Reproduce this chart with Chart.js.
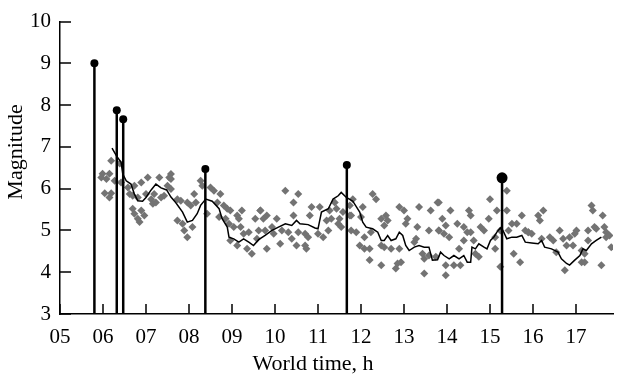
<!DOCTYPE html>
<html lang="en">
<head>
    <meta charset="UTF-8">
    <title>Magnitude vs world time</title>
    <script src="https://cdn.jsdelivr.net/npm/chart.js"></script>
    <style>
        body {
            margin: 0;
            padding: 0;
            background-color: #fff;
            font-family: 'Liberation Serif', serif;
        }

        .chart-wrapper {
            width: 617px;
            height: 382px;
            position: relative;
        }

        .font-warmup {
            position: absolute;
            left: -9999px;
            top: 0;
            font-family: 'Liberation Serif';
            font-size: 20px;
        }
    </style>
</head>
<body>
    <div class="font-warmup">World time, h Magnitude 0123456789</div>
    <div class="chart-wrapper">
        <canvas id="main-chart" width="617" height="382"></canvas>
    </div>

    <script>
        // Eventos (hastes com ponto)
        const eventTimes = [5.80, 6.32, 6.47, 8.38, 11.67, 15.28];
        const eventMags = [9.0, 7.88, 7.66, 6.47, 6.57, 6.26];
        const eventDotSizes = [4, 4, 4, 4, 4, 5.5];

        // Pontos cinzentos
        const scatterTimes = [
            5.99, 5.96, 6.08, 6.04, 6.15, 6.15, 6.19, 6.19, 6.27, 6.39, 6.42, 6.58, 6.62, 6.69, 6.69, 6.73, 6.73,
            6.81, 6.81, 6.85, 6.89, 6.89, 6.96, 7.00, 7.04, 7.12, 7.16, 7.19, 7.23, 7.31, 7.35, 7.42, 7.50, 7.54,
            7.58, 7.58, 7.58, 7.73, 7.73, 7.81, 7.85, 7.89, 7.96, 7.96, 8.04, 8.08, 8.12, 8.16, 8.27, 8.31, 8.42,
            8.50, 8.58, 8.66, 8.70, 8.73, 8.81, 8.85, 8.89, 8.93, 8.96, 8.96, 9.04, 9.12, 9.12, 9.16, 9.20, 9.23,
            9.27, 9.35, 9.39, 9.46, 9.54, 9.58, 9.62, 9.66, 9.66, 9.73, 9.77, 9.81, 9.81, 9.93, 9.97, 10.04, 10.12,
            10.16, 10.24, 10.31, 10.39, 10.43, 10.43, 10.50, 10.54, 10.54, 10.70, 10.70, 10.73, 10.77, 10.81, 10.85,
            11.00, 11.04, 11.12, 11.20, 11.24, 11.27, 11.31, 11.39, 11.43, 11.47, 11.50, 11.54, 11.58, 11.74, 11.74,
            11.77, 11.77, 11.81, 11.89, 11.97, 12.00, 12.04, 12.08, 12.08, 12.20, 12.20, 12.23, 12.27, 12.35, 12.47,
            12.47, 12.47, 12.54, 12.54, 12.58, 12.62, 12.70, 12.81, 12.85, 12.89, 12.89, 12.93, 13.00, 13.04, 13.08,
            13.24, 13.28, 13.31, 13.35, 13.43, 13.47, 13.47, 13.58, 13.58, 13.62, 13.74, 13.78, 13.81, 13.81, 13.81,
            13.89, 13.93, 13.97, 13.97, 13.97, 14.05, 14.08, 14.16, 14.24, 14.28, 14.31, 14.39, 14.39, 14.47, 14.51,
            14.55, 14.55, 14.62, 14.66, 14.74, 14.78, 14.86, 14.97, 15.00, 15.12, 15.12, 15.16, 15.24, 15.24, 15.39,
            15.39, 15.43, 15.51, 15.55, 15.62, 15.70, 15.74, 15.82, 15.89, 15.89, 15.97, 16.12, 16.16, 16.20, 16.24,
            16.39, 16.47, 16.54, 16.62, 16.70, 16.74, 16.78, 16.85, 16.93, 16.97, 17.01, 17.13, 17.13, 17.20, 17.20,
            17.28, 17.28, 17.36, 17.39, 17.43, 17.47, 17.59, 17.62, 17.66, 17.70, 17.70, 17.78, 17.82
        ];
        const scatterMags = [
            6.36, 6.27, 6.23, 5.89, 6.36, 5.79, 6.67, 5.89, 6.19, 6.60, 6.15, 6.03, 5.87, 5.83, 5.52, 6.07, 5.40,
            5.79, 5.28, 5.20, 6.15, 5.48, 5.36, 5.87, 6.27, 5.75, 5.64, 5.87, 5.67, 6.27, 5.79, 5.83, 6.07, 6.27,
            6.35, 6.23, 5.99, 5.75, 5.24, 5.71, 5.16, 5.00, 4.84, 5.67, 5.60, 5.08, 5.87, 5.67, 6.19, 6.07, 5.40,
            6.03, 5.95, 5.67, 5.32, 5.87, 5.60, 5.28, 5.52, 5.16, 5.48, 4.76, 5.08, 5.36, 4.64, 5.28, 5.08, 5.48,
            4.92, 4.56, 4.96, 4.44, 5.28, 4.80, 5.00, 5.48, 5.48, 5.28, 5.00, 5.36, 4.56, 5.08, 4.92, 5.28, 4.68,
            5.00, 5.95, 4.96, 4.80, 5.67, 5.36, 4.64, 5.87, 4.96, 4.92, 4.64, 4.56, 4.84, 5.36, 5.56, 4.92, 5.56,
            4.84, 5.24, 5.00, 5.48, 5.28, 5.67, 5.52, 5.16, 5.28, 5.08, 5.44, 5.60, 5.36, 5.00, 5.36, 5.75, 4.96,
            4.64, 5.32, 5.56, 4.84, 4.56, 4.56, 4.29, 4.96, 5.87, 5.75, 5.28, 4.64, 4.17, 5.12, 4.60, 5.36, 5.24,
            4.56, 4.09, 4.21, 5.56, 4.56, 4.24, 5.48, 5.16, 5.28, 4.72, 4.80, 5.08, 5.56, 4.44, 4.32, 3.97, 4.40,
            5.00, 5.48, 4.37, 5.67, 5.00, 5.67, 5.00, 5.28, 4.92, 5.12, 4.17, 3.93, 4.84, 5.48, 4.17, 5.16, 4.56,
            4.17, 5.08, 4.76, 4.96, 5.48, 4.96, 5.36, 4.76, 4.44, 4.37, 5.08, 5.00, 5.28, 5.75, 4.84, 4.56, 5.48,
            5.00, 4.13, 5.95, 5.48, 5.00, 5.16, 4.44, 5.16, 4.24, 5.36, 5.00, 4.96, 4.96, 4.92, 5.36, 5.24, 4.80,
            5.48, 4.84, 4.76, 4.48, 5.00, 4.80, 4.05, 4.64, 4.84, 4.64, 4.92, 5.00, 4.52, 4.24, 4.44, 4.24, 5.00,
            4.76, 5.60, 5.48, 5.08, 5.04, 4.17, 5.36, 5.08, 4.96, 4.84, 4.88, 4.60
        ];

        // Linha média
        const avgTimes = [
            6.21, 6.31, 6.42, 6.46, 6.54, 6.65, 6.73, 6.81, 6.92, 7.00, 7.12, 7.23, 7.35, 7.48, 7.58, 7.69, 7.85,
            7.96, 8.08, 8.19, 8.27, 8.39, 8.54, 8.70, 8.77, 8.89, 8.93, 9.04, 9.16, 9.27, 9.39, 9.50, 9.62, 9.77,
            9.93, 10.08, 10.24, 10.39, 10.50, 10.58, 10.77, 10.93, 11.00, 11.08, 11.24, 11.35, 11.47, 11.54, 11.66,
            11.81, 11.97, 12.04, 12.12, 12.27, 12.39, 12.47, 12.54, 12.62, 12.70, 12.81, 12.89, 12.97, 13.04, 13.12,
            13.24, 13.35, 13.47, 13.58, 13.66, 13.78, 13.85, 13.93, 14.05, 14.16, 14.28, 14.39, 14.47, 14.55, 14.58,
            14.66, 14.74, 14.86, 14.93, 15.01, 15.09, 15.16, 15.24, 15.32, 15.39, 15.51, 15.62, 15.74, 15.82, 15.97,
            16.12, 16.20, 16.27, 16.43, 16.58, 16.66, 16.78, 16.85, 16.97, 17.09, 17.16, 17.24, 17.36, 17.47, 17.59
        ];
        const avgMags = [
            6.97, 6.79, 6.63, 6.35, 6.19, 6.11, 5.87, 5.71, 5.70, 5.79, 5.97, 6.11, 6.02, 5.97, 5.80, 5.67, 5.44,
            5.20, 5.24, 5.40, 5.60, 5.75, 5.70, 5.52, 5.28, 5.08, 4.84, 4.80, 4.72, 4.80, 4.72, 4.64, 4.78, 4.88,
            5.00, 5.08, 5.16, 5.12, 5.24, 5.16, 5.14, 5.06, 5.04, 5.44, 5.52, 5.75, 5.83, 5.91, 5.79,
            5.70, 5.44, 5.20, 5.08, 5.04, 4.96, 4.76, 4.76, 4.88, 4.76, 4.80, 4.96, 4.88, 4.64, 4.52,
            4.60, 4.64, 4.60, 4.60, 4.29, 4.30, 4.48, 4.40, 4.32, 4.40, 4.32, 4.40, 4.24, 4.24, 4.60,
            4.56, 4.68, 4.60, 4.56, 4.76, 4.84, 4.96, 5.06, 4.96, 4.80, 4.84, 4.84, 4.88, 4.72, 4.70,
            4.68, 4.76, 4.60, 4.56, 4.48, 4.32, 4.21, 4.17, 4.29, 4.40, 4.56, 4.52, 4.68, 4.76, 4.84
        ];

        // Eixos
        const xTickValues = [5, 6, 7, 8, 9, 10, 11, 12, 13, 14, 15, 16, 17];
        const yTickValues = [3, 4, 5, 6, 7, 8, 9, 10];
        const xTitle = 'World time, h';
        const yTitle = 'Magnitude';

        const serif = '"Liberation Serif", serif';

        // Hastes: base em 3 ate a magnitude, separadas por NaN
        const stemPoints = [];
        const stemRadii = [];
        eventTimes.forEach(function(t, i) {
            stemPoints.push({ x: t, y: 3 }, { x: t, y: eventMags[i] }, { x: t, y: NaN });
            stemRadii.push(0, eventDotSizes[i], 0);
        });

        // Marcas dos eixos voltadas para dentro + titulos dos eixos
        const axisExtras = {
            id: 'axisExtras',
            afterDatasetsDraw(chart) {
                const ctx = chart.ctx;
                const xs = chart.scales.x;
                const ys = chart.scales.y;
                const area = chart.chartArea;
                ctx.save();
                ctx.strokeStyle = '#000';
                ctx.lineWidth = 1.5;
                ctx.beginPath();
                yTickValues.forEach(function(v) {
                    const py = Math.round(ys.getPixelForValue(v));
                    ctx.moveTo(area.left, py);
                    ctx.lineTo(area.left + 11, py);
                });
                xTickValues.forEach(function(v) {
                    const px = Math.round(xs.getPixelForValue(v));
                    ctx.moveTo(px, area.bottom);
                    ctx.lineTo(px, area.bottom - 10);
                });
                ctx.stroke();

                // titulos (no original estao um pouco deslocados do centro)
                ctx.fillStyle = '#000';
                ctx.font = '22px ' + serif;
                ctx.textAlign = 'center';
                ctx.textBaseline = 'middle';
                ctx.fillText(xTitle, 313, 364);
                ctx.translate(16, 152);
                ctx.rotate(-Math.PI / 2);
                ctx.fillText(yTitle, 0, 0);
                ctx.restore();
            }
        };

        function renderChart() {
            Chart.defaults.font.family = serif;

            new Chart(document.getElementById('main-chart').getContext('2d'), {
                data: {
                    datasets: [
                        {
                            type: 'line',
                            data: stemPoints,
                            borderColor: '#000',
                            backgroundColor: '#000',
                            borderWidth: 2.5,
                            pointRadius: stemRadii,
                            pointBorderWidth: 0,
                            spanGaps: false,
                            order: 1
                        },
                        {
                            type: 'line',
                            data: avgTimes.map(function(t, i) { return { x: t, y: avgMags[i] }; }),
                            borderColor: '#000',
                            borderWidth: 1.5,
                            pointRadius: 0,
                            tension: 0,
                            order: 2
                        },
                        {
                            type: 'scatter',
                            data: scatterTimes.map(function(t, i) { return { x: t, y: scatterMags[i] }; }),
                            pointStyle: 'rectRot',
                            pointRadius: 4,
                            backgroundColor: '#737373',
                            borderWidth: 0,
                            order: 3
                        }
                    ]
                },
                options: {
                    responsive: false,
                    animation: false,
                    events: [],
                    layout: { padding: { top: 20, right: 0, left: 0, bottom: 0 } },
                    plugins: {
                        legend: { display: false },
                        tooltip: { enabled: false }
                    },
                    scales: {
                        x: {
                            type: 'linear',
                            min: 5,
                            max: 17.86,
                            afterBuildTicks: function(scale) {
                                scale.ticks = xTickValues.map(function(v) { return { value: v }; });
                            },
                            afterFit: function(scale) { scale.height = 68; },
                            grid: { drawOnChartArea: false, drawTicks: false },
                            border: { color: '#000', width: 1.5 },
                            ticks: {
                                color: '#000',
                                padding: 11,
                                maxRotation: 0,
                                font: { family: serif, size: 21 },
                                callback: function(v) { return String(v).padStart(2, '0'); }
                            }
                        },
                        y: {
                            type: 'linear',
                            min: 3,
                            max: 10,
                            afterBuildTicks: function(scale) {
                                scale.ticks = yTickValues.map(function(v) { return { value: v }; });
                            },
                            afterFit: function(scale) { scale.width = 60; },
                            grid: { drawOnChartArea: false, drawTicks: false },
                            border: { color: '#000', width: 1.5 },
                            ticks: {
                                color: '#000',
                                padding: 9,
                                font: { family: serif, size: 21 }
                            }
                        }
                    }
                },
                plugins: [axisExtras]
            });
        }

        // Esperar pela fonte antes de desenhar
        if (document.fonts && document.fonts.load) {
            document.fonts.load('20px "Liberation Serif"').then(renderChart, renderChart);
        } else {
            renderChart();
        }
    </script>
</body>
</html>
